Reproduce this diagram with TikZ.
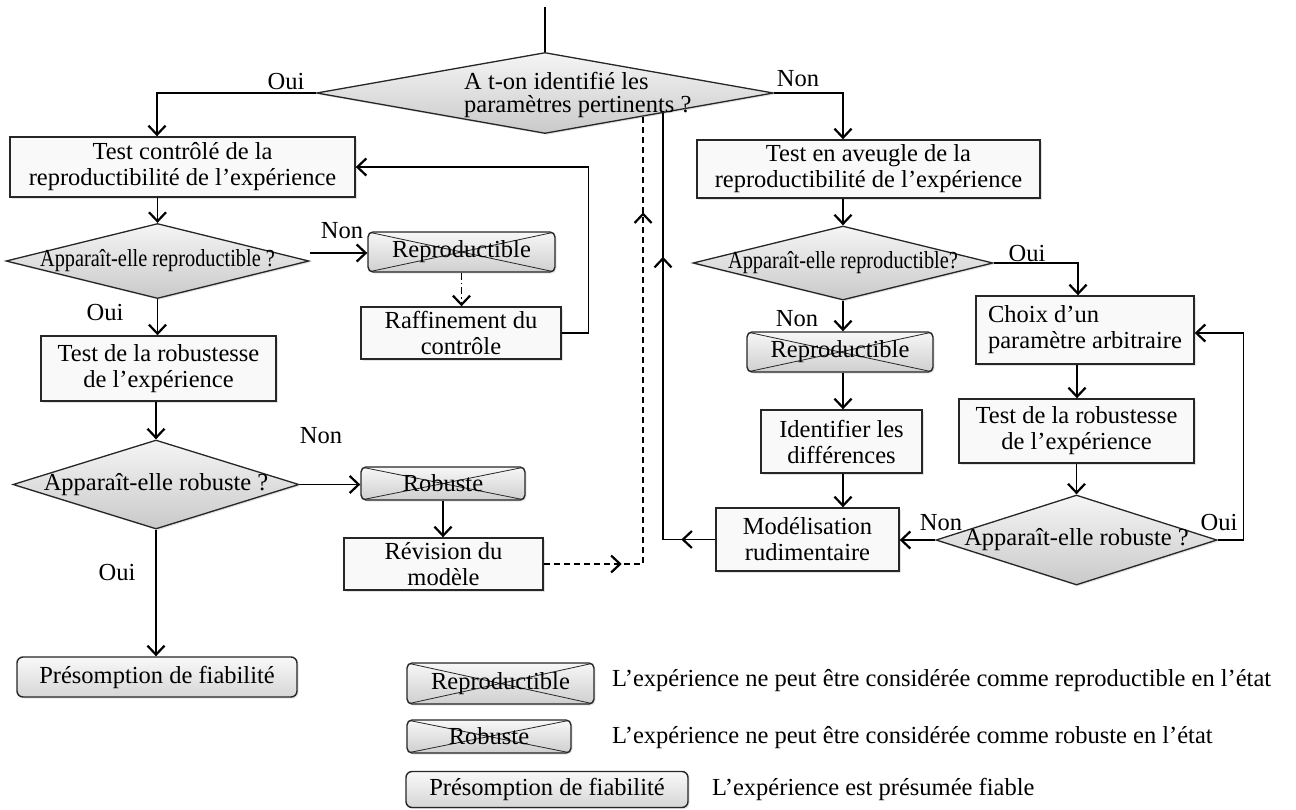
\documentclass[tikz,border=0pt]{standalone}
\usepackage{fontspec}
\setmainfont{Liberation Serif}
\usepackage{graphicx}
\usetikzlibrary{arrows.meta,shapes.geometric,calc,decorations.markings,shadows}
\newcommand{\cond}[1]{\scalebox{0.83}[1]{#1}}
\begin{document}
\begin{tikzpicture}[x=1pt,y=-1pt,
  every node/.style={font=\fontsize{24.5}{26}\selectfont},
  >={Straight Barb[length=9pt,width=17pt,line width=2.2pt]},
  conn/.style={line width=1.3pt, draw=black},
  arr/.style={conn, ->},
  shad/.style={drop shadow={opacity=0.22,shadow xshift=1.5pt,shadow yshift=-1.5pt}},
  box/.style={shad, draw=black!85, line width=1.4pt, fill=gray!5, align=center, inner sep=2pt},
  crossbox/.style={shad, draw=black!85, line width=1.4pt, rounded corners=5pt,
     top color=gray!6, bottom color=gray!38, inner sep=0pt,
     path picture={\draw[line width=0.8pt, black!85]
       (path picture bounding box.north west) -- (path picture bounding box.south east)
       (path picture bounding box.north east) -- (path picture bounding box.south west);}},
  dec/.style={shad, diamond, draw=black!85, line width=1.3pt, top color=gray!8, bottom color=gray!42, inner sep=0pt},
  term/.style={shad, draw=black!85, line width=1.4pt, rounded corners=6pt, top color=gray!5, bottom color=gray!32, inner sep=0pt},
  lbl/.style={inner sep=0pt},
  marksolid/.style={postaction={decorate}, decoration={markings,
     mark=at position 34pt with {\arrow{>}},
     mark=at position 335pt with {\arrow{>}}}},
  markdash/.style={postaction={decorate}, decoration={markings,
     mark=at position 78pt with {\arrow{>}},
     mark=at position 451pt with {\arrow{>}}}}
]
\useasboundingbox (0,0) rectangle (1296,809);

% ---------- nodes ----------
\node[dec, minimum width=457, minimum height=81] (D1) at (545,93) {};
\node[anchor=west, align=left, inner sep=0pt, font=\fontsize{24.5}{23}\selectfont] (D1t) at (464,95)
  {A t-on identifié les\\paramètres pertinents ?};

\node[box, minimum width=345, minimum height=60] (A) at (182.5,167)
  {Test contrôlé de la\\reproductibilité de l’expérience};
\node[box, minimum width=343, minimum height=58] (Bx) at (868.5,169)
  {Test en aveugle de la\\reproductibilité de l’expérience};

\node[dec, minimum width=303, minimum height=75] (B) at (157.5,261)
  {\makebox[0pt]{\cond{Apparaît-elle reproductible ?}}};
\node[dec, minimum width=300, minimum height=74] (C) at (843,263)
  {\makebox[0pt]{\cond{Apparaît-elle reproductible?}}};

\node[crossbox, minimum width=187, minimum height=40] (R1) at (461.5,252) {Reproductible};
\node[box, minimum width=200, minimum height=52] (Raff) at (461,333) {Raffinement du\\contrôle};

\node[box, minimum width=235, minimum height=65] (TC) at (158.5,368.5)
  {Test de la robustesse\\de l’expérience};
\node[dec, minimum width=286, minimum height=89] (E) at (156,484.5)
  {\makebox[0pt]{Apparaît-elle robuste ?}};
\node[crossbox, minimum width=164, minimum height=33] (Rob1) at (443,483.5) {Robuste};
\node[box, minimum width=199, minimum height=52] (Rev) at (443.5,564) {Révision du\\modèle};
\node[term, minimum width=280, minimum height=40] (P1) at (157,677) {Présomption de fiabilité};

\node[crossbox, minimum width=186, minimum height=40] (R2) at (840,352) {Reproductible};
\node[box, minimum width=161, minimum height=63] (Ident) at (841.5,441.5) {Identifier les\\différences};
\node[box, minimum width=183, minimum height=63] (Mod) at (807.5,539.5) {Modélisation\\rudimentaire};

\node[box, minimum width=218, minimum height=68, align=left] (Choix) at (1085,330)
  {Choix d’un\\paramètre arbitraire};
\node[box, minimum width=235, minimum height=64] (TR) at (1076.5,431)
  {Test de la robustesse\\de l’expérience};
\node[dec, minimum width=281, minimum height=90] (F) at (1076.5,540)
  {\makebox[0pt]{Apparaît-elle robuste ?}};

% legend
\node[crossbox, minimum width=187, minimum height=41] (L1) at (500.5,683.5) {Reproductible};
\node[crossbox, minimum width=164, minimum height=33] (L2) at (489,736.5) {Robuste};
\node[term, minimum width=282, minimum height=36] (L3) at (547,789.5) {Présomption de fiabilité};
\node[anchor=west, inner sep=0pt] (T1) at (612,681)
  {L’expérience ne peut être considérée comme reproductible en l’état};
\node[anchor=west, inner sep=0pt] (T2) at (612,738)
  {L’expérience ne peut être considérée comme robuste en l’état};
\node[anchor=west, inner sep=0pt] (T3) at (712,789)
  {L’expérience est présumée fiable};

% labels
\node[lbl] (o1) at (286,82) {Oui};
\node[lbl] (n1) at (798,79) {Non};
\node[lbl] (n2) at (342,231) {Non};
\node[lbl] (o2) at (105,313) {Oui};
\node[lbl] (n3) at (321,436) {Non};
\node[lbl] (o3) at (117,573) {Oui};
\node[lbl] (o4) at (1027,254) {Oui};
\node[lbl] (n4) at (797,319) {Non};
\node[lbl] (n5) at (941,523) {Non};
\node[lbl] (o5) at (1219,523) {Oui};

% ---------- connectors ----------
\coordinate (topend) at (545,7);
\coordinate (soltop) at ($(D1.south)!0.515!(D1.east)$);
\coordinate (dashtop) at ($(D1.south)!0.428!(D1.east)$);

\draw[conn] (topend) -- (D1.north);
\draw[arr] (D1.west) -| ([xshift=-25.5pt]A.north);
\draw[arr] (D1.east) -| ([xshift=-25.5pt]Bx.north);

\draw[arr] (A.south -| B.north) -- (B.north);
\draw[arr] ([yshift=8pt]B.east) -- ([yshift=8pt]B.east -| R1.west);
\draw[conn, ->, dash pattern=on 7pt off 3pt on 1.5pt off 3pt] (R1.south) -- (R1.south |- Raff.north);
\draw[arr] (Raff.east) -- ++(27,0) |- (A.east);
\draw[arr] (B.south) -- (B.south |- TC.north);
\draw[arr] (E.north |- TC.south) -- (E.north);
\draw[arr] (E.east) -- (E.east -| Rob1.west);
\draw[arr] (Rob1.south) -- (Rob1.south |- Rev.north);
\draw[arr] (E.south) -- (E.south |- P1.north);
\draw[conn, dash pattern=on 6pt off 4pt, markdash] (Rev.east) -| (dashtop);

\draw[arr] (Bx.south -| C.north) -- (C.north);
\draw[arr] (C.east) -| ([xshift=-7pt]Choix.north);
\draw[arr] (C.south) -- (C.south |- R2.north);
\draw[arr] (R2.south -| C.south) -- (C.south |- Ident.north);
\draw[arr] (Ident.south -| C.south) -- (C.south |- Mod.north);
\draw[conn, marksolid] (Mod.west) -| (soltop);
\draw[arr] ([xshift=-8pt]Choix.south) -- ([xshift=-8pt]Choix.south |- TR.north);
\draw[arr] (TR.south) -- (TR.south |- F.north);
\draw[arr] (F.west) -- (F.west -| Mod.east);
\draw[arr] (F.east) -- ++(26,0) |- ([yshift=-3pt]Choix.east);
\end{tikzpicture}
\end{document}
